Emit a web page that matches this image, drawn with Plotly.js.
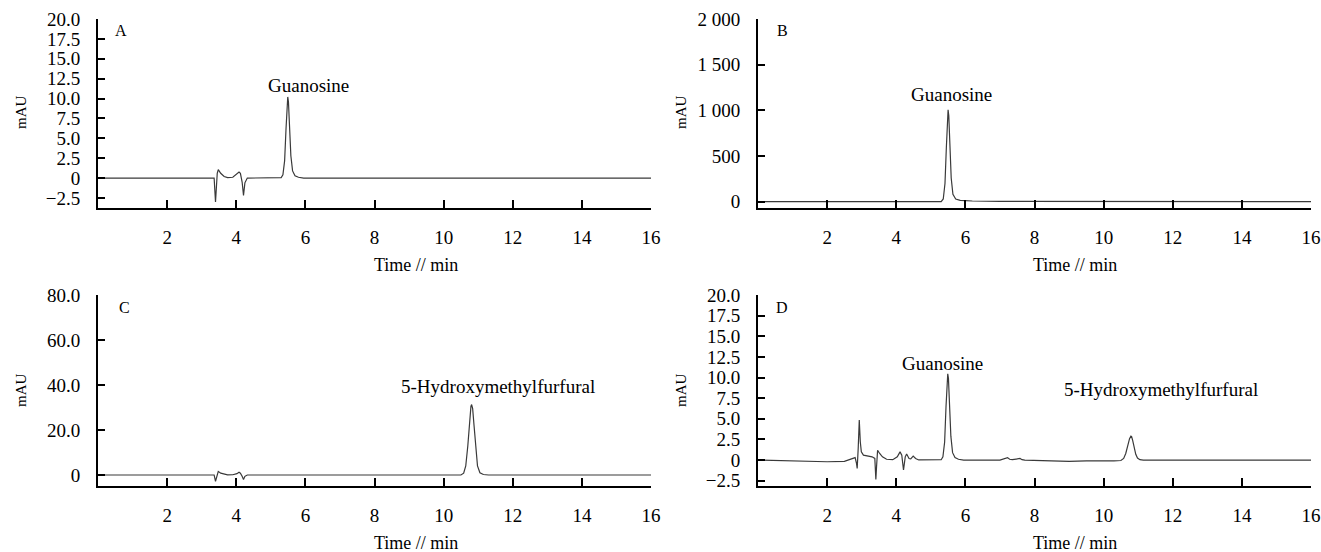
<!DOCTYPE html>
<html>
<head>
<meta charset="utf-8">
<script src="https://cdn.plot.ly/plotly-3.0.1.min.js"></script>
<style>html,body{margin:0;padding:0;background:#fff;}#chart{width:1321px;height:552px;}</style>
</head>
<body>
<div id="chart"></div>
<script>
// ---------------- data ----------------
const panelLetters = ["A", "B", "C", "D"];
const xTickVals = [2, 4, 6, 8, 10, 12, 14, 16];
const xTickText = ["2", "4", "6", "8", "10", "12", "14", "16"];
const xTitle = "Time // min";
const yTitle = "mAU";

const yTickValsAD = [-2.5, 0, 2.5, 5, 7.5, 10, 12.5, 15, 17.5, 20];
const yTickTextAD = ["\u22122.5", "0", "2.5", "5.0", "7.5", "10.0", "12.5", "15.0", "17.5", "20.0"];
const yTickValsB = [0, 500, 1000, 1500, 2000];
const yTickTextB = ["0", "500", "1 000", "1 500", "2 000"];
const yTickValsC = [0, 20, 40, 60, 80];
const yTickTextC = ["0", "20.0", "40.0", "60.0", "80.0"];

// Panel A: guanosine standard (time, min / signal, mAU)
const tA = [0, 1.0, 2.0, 3.0, 3.36, 3.40, 3.42, 3.45, 3.48, 3.55, 3.65, 3.75, 3.90, 4.02, 4.08, 4.12, 4.17, 4.21, 4.25, 4.32, 4.6, 5.0, 5.30, 5.35, 5.40, 5.44, 5.47, 5.49, 5.51, 5.54, 5.58, 5.63, 5.70, 5.80, 5.95, 7, 10, 13, 16];
const yA = [0, 0, -0.05, 0, 0, -3.0, -1.5, 0.6, 1.07, 0.6, 0.2, 0.05, 0.1, 0.5, 0.77, 0.6, -0.5, -2.17, -0.6, 0, 0, 0, 0.05, 0.4, 2.2, 6.2, 9.5, 10.2, 9.6, 6.4, 2.8, 0.9, 0.3, 0.1, 0, 0, 0, 0, 0];

// Panel B
const tB = [0, 2.5, 3.0, 3.1, 3.25, 4.0, 5.0, 5.30, 5.36, 5.41, 5.45, 5.48, 5.50, 5.52, 5.55, 5.59, 5.64, 5.72, 5.85, 6.2, 7.0, 16];
const yB = [0, 0, 2, 6, 3, 2, 0, 0, 30, 200, 600, 950, 1005, 940, 620, 260, 80, 30, 15, 8, 3, 0];

// Panel C: 5-HMF standard
const tC = [0, 3.0, 3.36, 3.40, 3.42, 3.45, 3.48, 3.55, 3.65, 3.75, 3.90, 4.02, 4.08, 4.12, 4.17, 4.21, 4.25, 4.32, 5, 10.0, 10.50, 10.58, 10.64, 10.70, 10.75, 10.79, 10.81, 10.84, 10.88, 10.93, 10.98, 11.05, 11.15, 11.3, 16];
const yC = [0, 0, 0, -2.8, -1.4, 0.6, 1.6, 0.8, 0.3, 0.05, 0.1, 0.6, 1.2, 0.8, -0.6, -2.0, -0.6, 0, 0, 0, 0, 0.8, 4, 13, 24, 30.5, 31.3, 29.5, 22, 11, 4, 1, 0.2, 0, 0];

// Panel D: sample
const tD = [0, 0.5, 1.0, 1.5, 2.0, 2.5, 2.70, 2.81, 2.85, 2.87, 2.90, 2.93, 2.96, 2.99, 3.05, 3.15, 3.30, 3.38, 3.41, 3.43, 3.46, 3.52, 3.60, 3.72, 3.90, 4.03, 4.11, 4.16, 4.21, 4.26, 4.30, 4.37, 4.42, 4.49, 4.56, 4.65, 5.0, 5.30, 5.35, 5.40, 5.44, 5.47, 5.49, 5.51, 5.54, 5.58, 5.63, 5.70, 5.80, 5.95, 7.0, 7.22, 7.28, 7.36, 7.58, 7.64, 7.72, 8.5, 9.0, 9.5, 10.0, 10.3, 10.50, 10.58, 10.64, 10.70, 10.75, 10.79, 10.81, 10.84, 10.88, 10.93, 10.98, 11.05, 11.15, 11.3, 16];
const yD = [0, -0.05, -0.15, -0.2, -0.2, -0.15, 0.1, 0.3, -0.4, -1.0, 1.5, 4.85, 2.2, 1.0, 0.6, 0.5, 0.4, 0.2, -2.35, -0.8, 1.2, 0.8, 0.4, 0.1, 0.05, 0.4, 1.0, 0.6, -1.2, 0.4, 0.73, 0.2, 0.15, 0.48, 0.2, 0.02, 0, 0.05, 0.4, 2.2, 6.5, 9.8, 10.45, 9.9, 6.6, 2.9, 0.9, 0.3, 0.1, 0, 0, 0.3, 0.1, 0.05, 0.2, 0.05, 0, -0.1, -0.15, -0.1, -0.15, -0.1, -0.05, 0.2, 0.8, 1.8, 2.6, 2.9, 2.85, 2.4, 1.5, 0.7, 0.25, 0.05, 0, 0, 0];

// peak labels: [text, time, signal]
const peakLabelsA = [["Guanosine", 6.08, 11.7]];
const peakLabelsB = [["Guanosine", 5.61, 1175]];
const peakLabelsC = [["5-Hydroxymethylfurfural", 11.58, 39.5]];
const peakLabelsD = [["Guanosine", 5.34, 11.7], ["5-Hydroxymethylfurfural", 11.66, 8.5]];

// ---------------- layout helpers ----------------
const W = 1321, H = 552;
const px = p => p / W;
const py = p => 1 - p / H;
const FONT = "'Liberation Serif', 'DejaVu Serif', serif";
const lineColor = "#3a3a3a";

function trace(x, y, xa, ya) {
  return {x: x, y: y, xaxis: xa, yaxis: ya, type: "scatter", mode: "lines",
    line: {color: lineColor, width: 1.2}, hoverinfo: "skip", showlegend: false};
}

const data = [
  trace(tA, yA, "x", "y"),
  trace(tB, yB, "x2", "y2"),
  trace(tC, yC, "x3", "y3"),
  trace(tD, yD, "x4", "y4")
];

function xAxis(domL, domR, anchor) {
  return {domain: [px(domL), px(domR)], range: [0, 16], anchor: anchor,
    tickvals: xTickVals, ticktext: xTickText, ticks: "inside", ticklen: 8, tickwidth: 2, tickcolor: "#000",
    showline: true, linewidth: 2, linecolor: "#000", showgrid: false, zeroline: false,
    tickfont: {family: FONT, size: 19, color: "#000"}, ticklabelstandoff: 11, fixedrange: true};
}
function yAxis(top, bottom, range, vals, text, anchor) {
  return {domain: [py(bottom), py(top)], range: range, anchor: anchor,
    tickvals: vals, ticktext: text, ticks: "inside", ticklen: 7, tickwidth: 2, tickcolor: "#000",
    showline: true, linewidth: 2, linecolor: "#000", showgrid: false, zeroline: false,
    tickfont: {family: FONT, size: 19, color: "#000"}, ticklabelstandoff: 12, fixedrange: true};
}

const annotations = [];
function txt(text, x, y, size, extra) {
  annotations.push(Object.assign({text: text, x: px(x), y: py(y), xref: "paper", yref: "paper",
    showarrow: false, xanchor: "center", yanchor: "middle",
    font: {family: FONT, size: size, color: "#000"}}, extra || {}));
}
function peak(labels, xa, ya) {
  labels.forEach(l => annotations.push({text: l[0], x: l[1], y: l[2], xref: xa, yref: ya,
    showarrow: false, xanchor: "center", yanchor: "middle",
    font: {family: FONT, size: 19, color: "#000"}}));
}

// panel letters
txt(panelLetters[0], 121, 30, 16);
txt(panelLetters[1], 782, 30, 16);
txt(panelLetters[2], 124, 307, 16);
txt(panelLetters[3], 782, 307, 16);
// axis titles
txt(xTitle, 416, 265, 18);
txt(xTitle, 1075, 265, 18);
txt(xTitle, 416, 543, 18);
txt(xTitle, 1075, 543, 18);
txt(yTitle, 21, 112, 15, {textangle: -90});
txt(yTitle, 681, 112, 15, {textangle: -90});
txt(yTitle, 21, 390, 15, {textangle: -90});
txt(yTitle, 681, 390, 15, {textangle: -90});
// peak labels
peak(peakLabelsA, "x", "y");
peak(peakLabelsB, "x2", "y2");
peak(peakLabelsC, "x3", "y3");
peak(peakLabelsD, "x4", "y4");

const layout = {
  width: W, height: H, margin: {l: 0, r: 0, t: 0, b: 0},
  paper_bgcolor: "#ffffff", plot_bgcolor: "#ffffff", showlegend: false,
  font: {family: FONT, color: "#000"},
  xaxis: xAxis(98, 651, "y"),
  yaxis: yAxis(19, 208.3, [-3.8, 20], yTickValsAD, yTickTextAD, "x"),
  xaxis2: xAxis(758, 1311, "y2"),
  yaxis2: yAxis(19, 208.3, [-72, 2000], yTickValsB, yTickTextB, "x2"),
  xaxis3: xAxis(98, 651, "y3"),
  yaxis3: yAxis(295, 486, [-4.9, 80], yTickValsC, yTickTextC, "x3"),
  xaxis4: xAxis(758, 1311, "y4"),
  yaxis4: yAxis(295, 485.7, [-3.1, 20], yTickValsAD, yTickTextAD, "x4"),
  annotations: annotations
};

Plotly.newPlot("chart", data, layout, {staticPlot: true, displayModeBar: false});
</script>
</body>
</html>
